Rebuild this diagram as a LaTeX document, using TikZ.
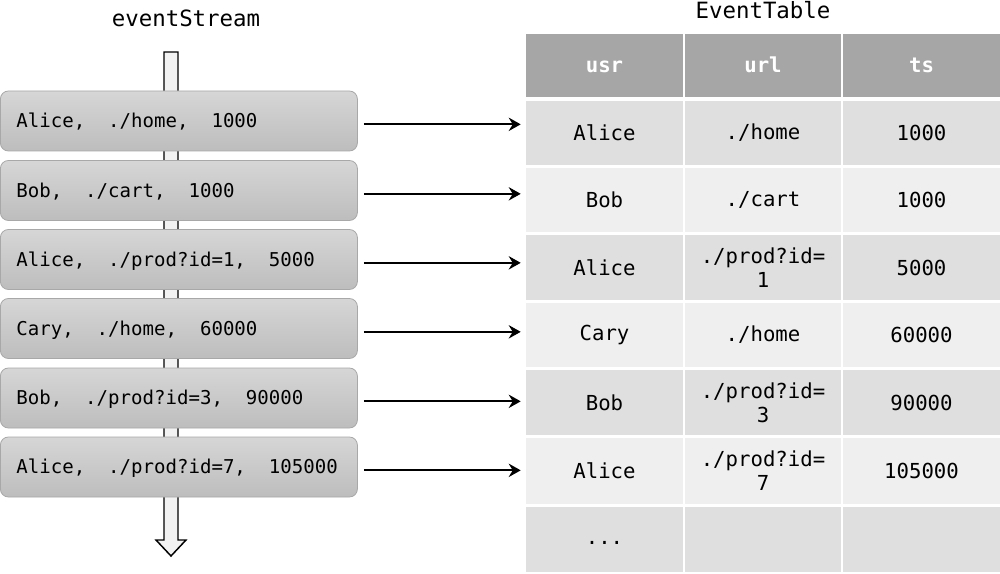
\documentclass[tikz,border=0pt]{standalone}
\usepackage{fontspec}
\setmonofont{DejaVu Sans Mono}
\usetikzlibrary{arrows.meta}
\definecolor{hdr}{HTML}{A6A6A6}
\definecolor{rowdark}{HTML}{DFDFDF}
\definecolor{rowlight}{HTML}{EFEFEF}
\definecolor{boxtop}{HTML}{D6D6D6}
\definecolor{boxbot}{HTML}{BDBDBD}
\definecolor{boxedge}{HTML}{A8A8A8}
\definecolor{streamfill}{HTML}{F2F2F2}
\newcommand\twosp{\hspace*{1.204em}}
\begin{document}
\begin{tikzpicture}[x=0.75pt,y=-0.75pt,
  evbox/.style={rectangle, rounded corners=6pt, draw=boxedge, line width=0.6pt,
    top color=boxtop, bottom color=boxbot, anchor=west,
    text width=243.75pt, inner xsep=12pt, inner ysep=0pt, minimum height=45pt,
    text height=10.4pt, text depth=0.1pt,
    align=left, font=\ttfamily\fontsize{14.3}{16}\selectfont},
  cell/.style={rectangle, inner sep=0pt, align=center,
    font=\ttfamily\fontsize{15.5}{18}\selectfont},
  hcell/.style={cell, fill=hdr, text=white, text height=12pt, text depth=1.4pt,
    font=\ttfamily\bfseries\fontsize{15.5}{18}\selectfont},
  title/.style={font=\ttfamily\fontsize{16.8}{20}\selectfont},
  conn/.style={-{Stealth[length=9pt,width=10pt,inset=3pt]}, line width=1.5pt},
  stream/.style={draw=black, fill=streamfill, line width=1.1pt}
]
\useasboundingbox (0,0) rectangle (1000,574);
% stream arrow
\draw[stream] (164,52) -- (178,52) -- (178,540) -- (186,540) -- (171,556) -- (156,540) -- (164,540) -- cycle;
\node[title] (es) at (186,18) {eventStream};
\node[title] (et) at (763,10) {EventTable};
% event boxes
\node[evbox] (b1) at (0,121) {Alice,\twosp./home,\twosp1000};
\node[evbox] (b2) at (0,190.5) {Bob,\twosp./cart,\twosp1000};
\node[evbox] (b3) at (0,259.5) {Alice,\twosp./prod?id=1,\twosp5000};
\node[evbox] (b4) at (0,328.5) {Cary,\twosp./home,\twosp60000};
\node[evbox] (b5) at (0,398) {Bob,\twosp./prod?id=3,\twosp90000};
\node[evbox] (b6) at (0,467) {Alice,\twosp./prod?id=7,\twosp105000};
% table header
\node[hcell, minimum width=117.75pt, minimum height=47.25pt] (h1) at (604.5,65.5) {usr};
\node[hcell, minimum width=117pt, minimum height=47.25pt] (h2) at (763,65.5) {url};
\node[hcell, minimum width=117.75pt, minimum height=47.25pt] (h3) at (921.5,65.5) {ts};
% rows
\foreach \r/\y/\h/\col/\a/\b/\c in {
  1/133/64/rowdark/Alice/{./home}/1000,
  2/200/64/rowlight/Bob/{./cart}/1000,
  3/267.5/65/rowdark/Alice/{./prod?id=\\1}/5000,
  4/335/64/rowlight/Cary/{./home}/60000,
  5/402.5/65/rowdark/Bob/{./prod?id=\\3}/90000,
  6/471/66/rowlight/Alice/{./prod?id=\\7}/105000,
  7/539.5/65/rowdark/{\strut...}/{}/{}}{
  \node[cell, fill=\col, minimum width=117.75pt, minimum height=0.75*\h pt] (c\r-1) at (604.5,\y) {\a};
  \node[cell, fill=\col, minimum width=117pt, minimum height=0.75*\h pt] (c\r-2) at (763,\y) {\b};
  \node[cell, fill=\col, minimum width=117.75pt, minimum height=0.75*\h pt] (c\r-3) at (921.5,\y) {\c};
}
% connectors
\foreach \i in {1,...,6}{
  \draw[conn] ([xshift=4.5pt,yshift=-2.5pt]b\i.east) -- ([xshift=-3.75pt,yshift=-2.5pt]b\i.east -| c\i-1.west);
}
\end{tikzpicture}
\end{document}
